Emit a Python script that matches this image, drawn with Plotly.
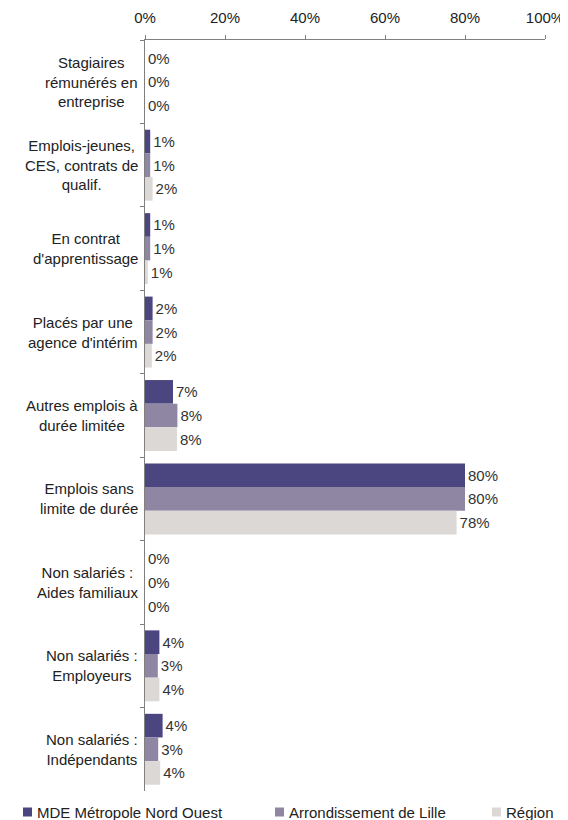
import plotly.graph_objects as go

categories = [
    "Stagiaires<br>rémunérés en<br>entreprise",
    "Emplois-jeunes,<br>CES, contrats de<br>qualif.",
    "En contrat<br>d'apprentissage",
    "Placés par une<br>agence d'intérim",
    "Autres emplois à<br>durée limitée",
    "Emplois sans<br>limite de durée",
    "Non salariés :<br>Aides familiaux",
    "Non salariés :<br>Employeurs",
    "Non salariés :<br>Indépendants",
]
series_names = ["MDE Métropole Nord Ouest", "Arrondissement de Lille", "Région"]
mde = [0, 1.3, 1.3, 1.9, 7.0, 80.0, 0, 3.6, 4.4]
arrondissement = [0, 1.3, 1.3, 1.9, 8.1, 80.0, 0, 3.2, 3.3]
region = [0, 1.9, 0.7, 1.7, 8.0, 77.9, 0, 3.6, 3.8]
colors = ["#4b4580", "#8e86a2", "#dcd8d5"]
x_ticks = [0, 20, 40, 60, 80, 100]
x_ticklabels = ["0%", "20%", "40%", "60%", "80%", "100%"]

FONT = "Liberation Sans, Arial, sans-serif"
FS = 15
W, H = 568, 820
OFF = 8  # page body margin offset
# target screen positions: plot x 145..545, y 40..791
ML, MT = 145 - OFF, 40 - OFF
MR = W - (545 - OFF)
MB = H - (791 - OFF)
PW, PH = W - ML - MR, H - MT - MB


def px_x(px):
    return (px - OFF - ML) / PW


def px_y(py):
    return (H - MB - (py - OFF)) / PH


fig = go.Figure()
for name, vals, col in zip(series_names, [mde, arrondissement, region], colors):
    fig.add_trace(go.Bar(
        y=categories, x=vals, name=name, orientation="h",
        marker=dict(color=col, line=dict(width=0)),
        texttemplate="%{x:.0f}%", textposition="outside",
        textfont=dict(family=FONT, size=FS, color="#333333"),
        cliponaxis=False, showlegend=False,
    ))

for c in categories:
    fig.add_annotation(
        x=0, xref="paper", y=c, yref="y", text=c, showarrow=False,
        xanchor="right", align="center", xshift=-5,
        font=dict(family=FONT, size=FS, color="#222222"),
    )

# legend drawn as squares + labels below the plot
legend_sym_x = [23, 275, 492]
legend_y = 812
for name, col, sx in zip(series_names, colors, legend_sym_x):
    fig.add_shape(type="rect", xref="paper", yref="paper",
                  x0=px_x(sx), x1=px_x(sx + 9), y0=px_y(legend_y + 4.5), y1=px_y(legend_y - 4.5),
                  fillcolor=col, line=dict(width=0))
    fig.add_annotation(x=px_x(sx + 12), y=px_y(legend_y), xref="paper", yref="paper",
                       text=name, showarrow=False, xanchor="left", yanchor="middle",
                       font=dict(family=FONT, size=FS, color="#222222"))

fig.update_layout(
    width=W, height=H,
    margin=dict(l=ML, r=MR, t=MT, b=MB, autoexpand=False),
    barmode="group", bargap=0.15, bargroupgap=0,
    plot_bgcolor="white", paper_bgcolor="white",
    font=dict(family=FONT, size=FS, color="#222222"),
    showlegend=False,
    xaxis=dict(side="top", range=[0, 100], tickvals=x_ticks, ticktext=x_ticklabels,
               showgrid=False, zeroline=False, showline=True, linecolor="#808080",
               linewidth=1, ticks="outside", ticklen=4, tickcolor="#808080",
               ticklabelstandoff=6,
               tickfont=dict(family=FONT, size=FS, color="#222222")),
    yaxis=dict(autorange="reversed", showticklabels=False, showgrid=False,
               showline=True, linecolor="#808080", linewidth=1,
               ticks="outside", ticklen=4, tickcolor="#808080", tickson="boundaries"),
)

fig.write_html("out.html")
